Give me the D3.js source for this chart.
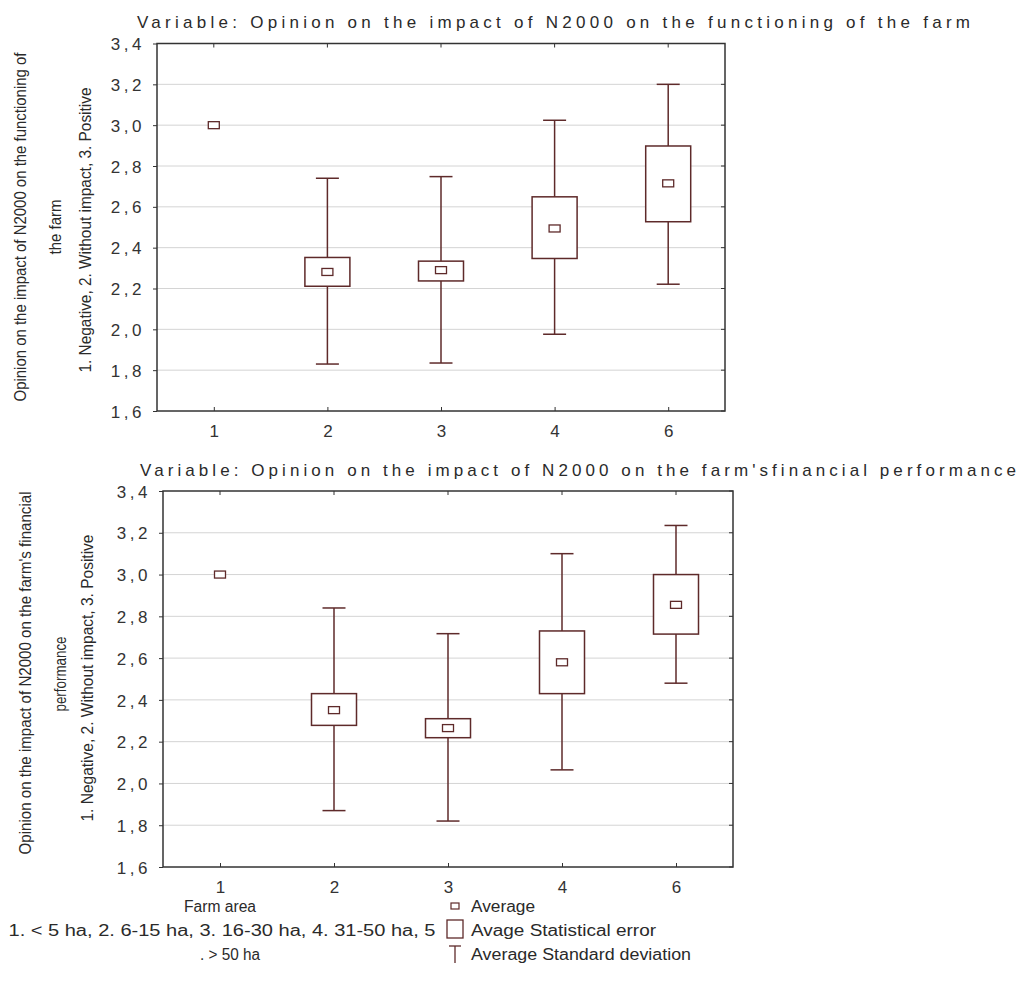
<!DOCTYPE html>
<html>
<head>
<meta charset="utf-8">
<script src="https://cdn.jsdelivr.net/npm/d3@7"></script>
<style>
  body { margin: 0; background: #fff; }
  svg { display: block; }
  text { font-family: "Liberation Sans", Arial, sans-serif; fill: #2a2a2a; }
  .narrow { font-family: "Liberation Sans Narrow", "Liberation Sans", Arial, sans-serif; }
</style>
</head>
<body>
<div id="visualization"></div>
<script>
// farm area groups (5 = > 50 ha is coded 6 in the data)
const groups = ['1', '2', '3', '4', '6']
const yTicks = [1.6, 1.8, 2.0, 2.2, 2.4, 2.6, 2.8, 3.0, 3.2, 3.4]

// panel 1: impact on functioning of the farm
const funcMean = [3.0, 2.281, 2.290, 2.494, 2.715]
const funcSeLo = [null, 2.211, 2.237, 2.347, 2.527]
const funcSeHi = [null, 2.352, 2.334, 2.649, 2.898]
const funcSdLo = [null, 1.830, 1.835, 1.976, 2.221]
const funcSdHi = [null, 2.740, 2.748, 3.024, 3.200]

// panel 2: impact on financial performance
const finMean = [3.0, 2.351, 2.265, 2.580, 2.855]
const finSeLo = [null, 2.278, 2.219, 2.430, 2.715]
const finSeHi = [null, 2.430, 2.310, 2.730, 3.000]
const finSdLo = [null, 1.870, 1.820, 2.065, 2.480]
const finSdHi = [null, 2.840, 2.717, 3.100, 3.235]

const markColor = '#5e2a2a'

const svg = d3.select('#visualization')
  .append('svg')
  .attr('width', 1021)
  .attr('height', 992)

function comma(v) {
  return d3.format('.1f')(v).replace('.', ',')
}

function drawPanel(p) {
  const x = d3.scalePoint().domain(groups).range([p.left, p.right]).padding(0.5)
  const y = d3.scaleLinear().domain([1.6, 3.4]).range([p.bottom, p.top])
  const g = svg.append('g')

  // gridlines
  g.selectAll('.grid')
    .data(yTicks.slice(1, -1))
    .enter().append('line')
    .attr('x1', p.left).attr('x2', p.right)
    .attr('y1', d => y(d)).attr('y2', d => y(d))
    .attr('stroke', '#d4d4d4')

  // y axis
  const yAxis = g.append('g')
    .attr('transform', `translate(${p.left},0)`)
    .call(d3.axisLeft(y).tickValues(yTicks).tickFormat(comma).tickSize(4).tickPadding(8))
  yAxis.select('.domain').remove()
  yAxis.selectAll('.tick line').attr('stroke', '#333')
  yAxis.selectAll('.tick text')
    .attr('dy', '0.36em')
    .style('font-size', '17px')
    .style('letter-spacing', '3.5px')
    .style('fill', '#333')
    .style('font-family', '"Liberation Sans", Arial, sans-serif')

  // inner ticks on right border
  g.selectAll('.rtick')
    .data(yTicks)
    .enter().append('line')
    .attr('x1', p.right - 4).attr('x2', p.right)
    .attr('y1', d => y(d)).attr('y2', d => y(d))
    .attr('stroke', '#333')

  // x axis
  const xAxis = g.append('g')
    .attr('transform', `translate(0,${p.bottom})`)
    .call(d3.axisBottom(x).tickSize(-4).tickPadding(14))
  xAxis.select('.domain').remove()
  xAxis.selectAll('.tick line').attr('stroke', '#333')
  xAxis.selectAll('.tick text')
    .style('font-size', '17px')
    .style('fill', '#333')
    .style('font-family', '"Liberation Sans", Arial, sans-serif')

  // inner ticks on top border
  g.selectAll('.ttick')
    .data(groups)
    .enter().append('line')
    .attr('x1', d => x(d)).attr('x2', d => x(d))
    .attr('y1', p.top).attr('y2', p.top + 4)
    .attr('stroke', '#333')

  // frame
  g.append('rect')
    .attr('x', p.left).attr('y', p.top)
    .attr('width', p.right - p.left).attr('height', p.bottom - p.top)
    .attr('fill', 'none')
    .attr('stroke', '#333')
    .attr('stroke-width', 1.5)

  const rows = groups.map((k, i) => ({
    k: k, mean: p.mean[i], seLo: p.seLo[i], seHi: p.seHi[i], sdLo: p.sdLo[i], sdHi: p.sdHi[i]
  }))
  const withSpread = rows.filter(d => d.sdLo !== null)
  const boxW = 45, capW = 23

  // whiskers (standard deviation)
  g.selectAll('.whisk')
    .data(withSpread)
    .enter().append('line')
    .attr('x1', d => x(d.k)).attr('x2', d => x(d.k))
    .attr('y1', d => y(d.sdLo)).attr('y2', d => y(d.sdHi))
    .attr('stroke', markColor).attr('stroke-width', 1.5)

  g.selectAll('.capHi')
    .data(withSpread)
    .enter().append('line')
    .attr('x1', d => x(d.k) - capW / 2).attr('x2', d => x(d.k) + capW / 2)
    .attr('y1', d => y(d.sdHi)).attr('y2', d => y(d.sdHi))
    .attr('stroke', markColor).attr('stroke-width', 1.5)

  g.selectAll('.capLo')
    .data(withSpread)
    .enter().append('line')
    .attr('x1', d => x(d.k) - capW / 2).attr('x2', d => x(d.k) + capW / 2)
    .attr('y1', d => y(d.sdLo)).attr('y2', d => y(d.sdLo))
    .attr('stroke', markColor).attr('stroke-width', 1.5)

  // boxes (statistical error)
  g.selectAll('.box')
    .data(withSpread)
    .enter().append('rect')
    .attr('x', d => x(d.k) - boxW / 2)
    .attr('y', d => y(d.seHi))
    .attr('width', boxW)
    .attr('height', d => y(d.seLo) - y(d.seHi))
    .attr('fill', '#fff')
    .attr('stroke', markColor).attr('stroke-width', 1.5)

  // means
  g.selectAll('.mean')
    .data(rows)
    .enter().append('rect')
    .attr('x', d => x(d.k) - 5.5)
    .attr('y', d => y(d.mean) - 3.5)
    .attr('width', 11).attr('height', 7)
    .attr('fill', '#fff')
    .attr('stroke', markColor).attr('stroke-width', 1.3)

  // title
  g.append('text')
    .attr('x', p.titleX).attr('y', p.titleY)
    .attr('textLength', p.titleLen)
    .attr('lengthAdjust', 'spacing')
    .style('font-size', '17px')
    .text(p.title)

  // y axis title, rotated
  p.yLabels.forEach(l => {
    g.append('text')
      .attr('class', 'narrow')
      .attr('transform', `translate(${l.x},${l.y}) rotate(-90)`)
      .attr('text-anchor', 'middle')
      .attr('textLength', l.len)
      .attr('lengthAdjust', 'spacingAndGlyphs')
      .style('font-size', '17px')
      .text(l.text)
  })
}

drawPanel({
  left: 157, right: 725, top: 43.5, bottom: 411,
  mean: funcMean, seLo: funcSeLo, seHi: funcSeHi, sdLo: funcSdLo, sdHi: funcSdHi,
  title: 'Variable: Opinion on the impact of N2000 on the functioning of the farm',
  titleX: 137, titleY: 28, titleLen: 833,
  yLabels: [
    { text: 'Opinion on the impact of N2000 on the functioning of', x: 26, y: 227, len: 349 },
    { text: 'the farm', x: 61, y: 227, len: 55 },
    { text: '1. Negative, 2. Without impact, 3. Positive', x: 91, y: 230, len: 285 }
  ]
})

drawPanel({
  left: 163, right: 733, top: 491, bottom: 867,
  mean: finMean, seLo: finSeLo, seHi: finSeHi, sdLo: finSdLo, sdHi: finSdHi,
  title: "Variable: Opinion on the impact of N2000 on the farm'sfinancial performance",
  titleX: 140, titleY: 476, titleLen: 876,
  yLabels: [
    { text: "Opinion on the impact of N2000 on the farm's financial", x: 31, y: 673, len: 363 },
    { text: 'performance', x: 66, y: 674, len: 75 },
    { text: '1. Negative, 2. Without impact, 3. Positive', x: 93, y: 678, len: 287 }
  ]
})

// legend
const legendLeft = ['Farm area', '1. < 5 ha, 2. 6-15 ha, 3. 16-30 ha, 4. 31-50 ha, 5', '. > 50 ha']
const legendRight = ['Average', 'Avage Statistical error', 'Average Standard deviation']

const leg = svg.append('g')
leg.selectAll('.ll')
  .data(legendLeft)
  .enter().append('text')
  .attr('class', 'narrow')
  .attr('x', (d, i) => [220, 222, 230][i])
  .attr('y', (d, i) => 912 + i * 24)
  .attr('text-anchor', 'middle')
  .attr('textLength', (d, i) => [72, 427, 60][i])
  .attr('lengthAdjust', 'spacingAndGlyphs')
  .style('font-size', '16px')
  .text(d => d)

leg.selectAll('.lr')
  .data(legendRight)
  .enter().append('text')
  .attr('class', 'narrow')
  .attr('x', 471)
  .attr('y', (d, i) => 912 + i * 24)
  .attr('textLength', (d, i) => [64, 185, 220][i])
  .attr('lengthAdjust', 'spacingAndGlyphs')
  .style('font-size', '16px')
  .text(d => d)

// legend symbols
leg.append('rect')
  .attr('x', 451).attr('y', 903).attr('width', 8).attr('height', 6)
  .attr('fill', '#fff').attr('stroke', markColor).attr('stroke-width', 1.2)
leg.append('rect')
  .attr('x', 447).attr('y', 920).attr('width', 16).attr('height', 18)
  .attr('fill', '#fff').attr('stroke', markColor).attr('stroke-width', 1.3)
leg.append('line')
  .attr('x1', 449).attr('x2', 461).attr('y1', 946).attr('y2', 946)
  .attr('stroke', markColor).attr('stroke-width', 1.3)
leg.append('line')
  .attr('x1', 455).attr('x2', 455).attr('y1', 946).attr('y2', 963)
  .attr('stroke', markColor).attr('stroke-width', 1.3)
</script>
</body>
</html>
